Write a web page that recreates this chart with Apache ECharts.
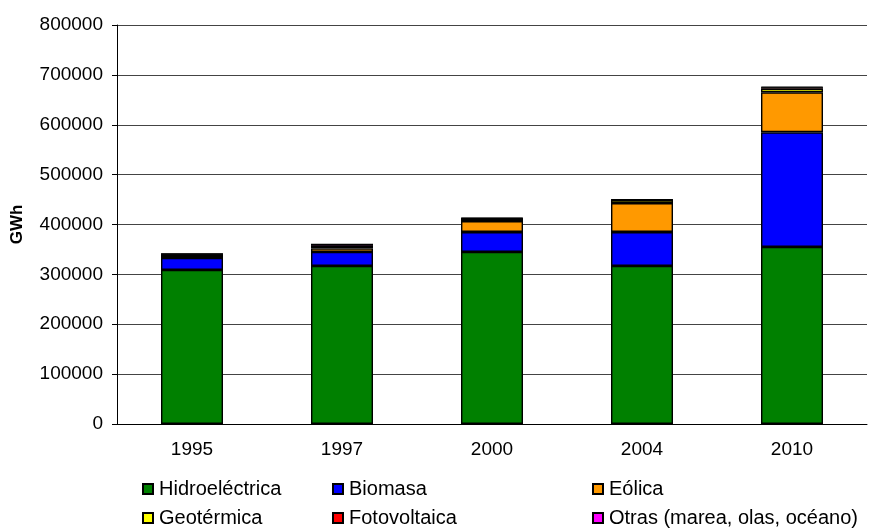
<!DOCTYPE html>
<html>
<head>
<meta charset="utf-8">
<script src="https://cdn.jsdelivr.net/npm/echarts@6/dist/echarts.min.js"></script>
<style>
html,body{margin:0;padding:0;background:#fff}
#chart{width:870px;height:529px}
</style>
</head>
<body>
<div id="chart"></div>
<script>
// años
const years=['1995','1997','2000','2004','2010'];
// GWh por fuente
const hidro=[309000,317000,345000,317000,355000];
const biomasa=[24000,28000,40000,68000,230000];
const eolica=[4000,7000,22000,58000,80000];
const geo=[3500,5000,5000,6000,7000];
const foto=[100,200,300,800,3000];
const otras=[300,4000,1000,300,1000];
const yTicks=[0,100000,200000,300000,400000,500000,600000,700000,800000];

const fontF='"Liberation Sans", Arial, sans-serif';
function mk(name,data,color){
 return {name:name,type:'bar',stack:'t',data:data,barWidth:62,
  itemStyle:{color:color,borderColor:'#000',borderWidth:1.4},
  emphasis:{disabled:true}};
}
function lg(left,top,name){
 return {left:left,top:top,itemWidth:10,itemHeight:10,icon:'rect',itemGap:0,
  textStyle:{fontFamily:fontF,fontSize:20,color:'#000',padding:[0,0,0,1]},data:[name],selectedMode:false};
}
var c=echarts.init(document.getElementById('chart'));
c.setOption({
 animation:false,
 legend:[lg(137,474,'Hidroeléctrica'),lg(327,474,'Biomasa'),lg(587,474,'Eólica'),
  lg(137,503,'Geotérmica'),lg(327,503,'Fotovoltaica'),lg(587,503,'Otras (marea, olas, océano)')],
 grid:{left:117,right:3,top:25,bottom:105},
 xAxis:{type:'category',data:years,
  axisLine:{lineStyle:{color:'#000',width:1}},
  axisTick:{length:8,lineStyle:{color:'#000'}},
  axisLabel:{fontFamily:fontF,fontSize:19,color:'#000',margin:16}},
 yAxis:{type:'value',min:yTicks[0],max:yTicks[yTicks.length-1],interval:100000,
  name:'GWh',nameLocation:'middle',nameRotate:90,nameGap:91,
  nameTextStyle:{fontFamily:fontF,fontSize:17,fontWeight:'bold',color:'#000'},
  axisLine:{show:true,lineStyle:{color:'#000'}},
  axisTick:{show:true,length:5,lineStyle:{color:'#000'}},
  splitLine:{lineStyle:{color:'#444',width:1}},
  axisLabel:{fontFamily:fontF,fontSize:19,color:'#000',margin:14,formatter:function(v){return String(v);}}},
 series:[mk('Hidroeléctrica',hidro,'#008000'),mk('Biomasa',biomasa,'#0000ff'),mk('Eólica',eolica,'#ff9900'),
  mk('Geotérmica',geo,'#ffff00'),mk('Fotovoltaica',foto,'#ff0000'),mk('Otras (marea, olas, océano)',otras,'#ff00ff')]
});
</script>
</body>
</html>
